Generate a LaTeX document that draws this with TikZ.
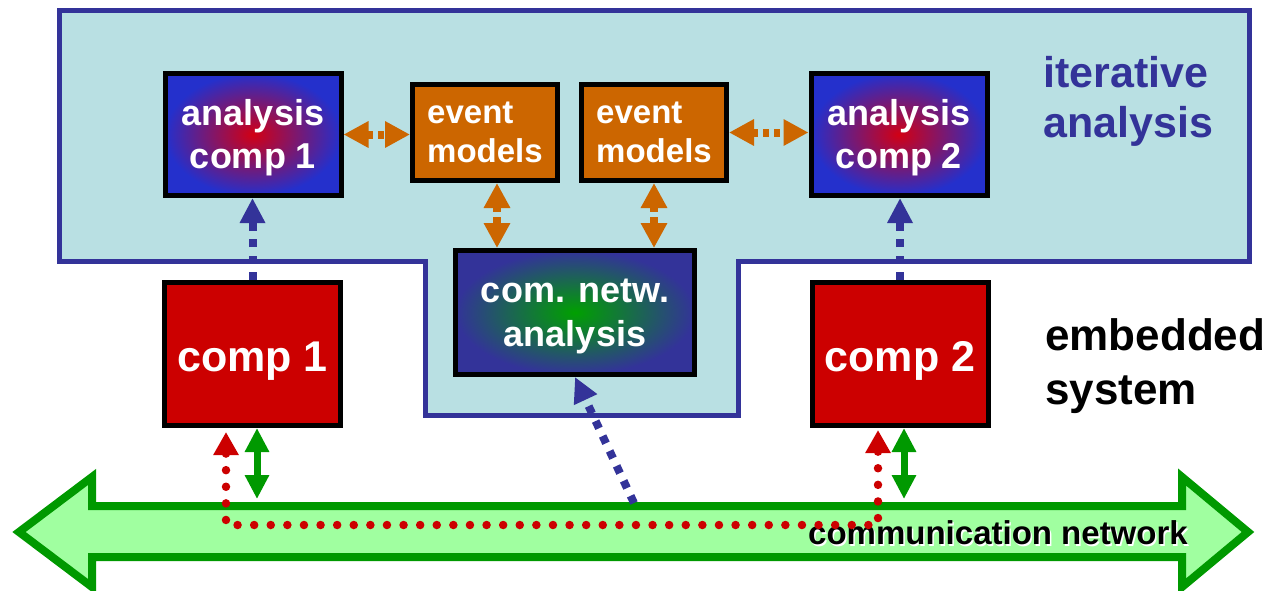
\documentclass[tikz,border=0pt]{standalone}
\usepackage{fontspec}
\setmainfont{Liberation Sans}
\usetikzlibrary{arrows.meta}

\definecolor{frameblue}{RGB}{51,51,153}
\definecolor{paleblue}{RGB}{185,224,227}
\definecolor{evorange}{RGB}{204,102,0}
\definecolor{compred}{RGB}{204,0,0}
\definecolor{netgreen}{RGB}{0,153,0}
\definecolor{netfill}{RGB}{160,255,160}
\definecolor{ancenter}{RGB}{210,0,20}
\definecolor{anouter}{RGB}{36,48,204}
\definecolor{cnacenter}{RGB}{0,160,0}

\newcommand{\fsz}[2]{\fontsize{#1}{#2}\selectfont\bfseries}
% invisible strut that sets the height of a first text line
\newcommand{\lineroom}[1]{\rule{0pt}{#1}}

\tikzset{
  blk/.style={draw=black, line width=5pt, inner sep=0pt, text=white, align=center},
  anbox/.style={blk, minimum width=176pt, minimum height=122pt,
    inner color=ancenter, outer color=anouter, font=\fsz{36}{43}},
  evbox/.style={blk, fill=evorange, minimum width=145pt, minimum height=96pt,
    align=left, font=\fsz{33}{39}},
  compbox/.style={blk, fill=compred, minimum width=176pt, minimum height=143pt,
    font=\fsz{43}{50}},
  netbox/.style={blk, minimum width=239pt, minimum height=124pt,
    inner color=cnacenter, outer color=frameblue, font=\fsz{36}{44}},
  bluelink/.style={draw=frameblue, line width=8pt,
    dash pattern=on 8pt off 8.5pt,
    -{Triangle[length=25pt,width=24pt]}},
  orangelink/.style={draw=evorange, line width=8pt,
    dash pattern=on 6pt off 5pt,
    {Triangle[length=25pt,width=25pt]}-{Triangle[length=25pt,width=25pt]}},
  greenlink/.style={draw=netgreen, line width=7pt,
    {Triangle[length=24pt,width=23pt]}-{Triangle[length=24pt,width=23pt]}},
  redlink/.style={draw=compred, line width=8.5pt, line cap=round,
    dash pattern=on 0pt off 16.6pt,
    {Triangle[length=23pt,width=24pt]}-{Triangle[length=23pt,width=24pt]}},
  heading/.style={inner sep=0pt, anchor=west, align=left},
}

\begin{document}
\begin{tikzpicture}[x=1pt, y=-1pt]
\useasboundingbox (0,0) rectangle (1277,590);

% iterative analysis region
\draw[frameblue, line width=5pt, fill=paleblue, line join=miter]
  (59,10) -- (1249,10) -- (1249,261) -- (738,261) -- (738,415)
  -- (425,415) -- (425,261) -- (59,261) -- cycle;

% communication network (double arrow)
\draw[netgreen, fill=netfill, line width=8pt, line join=miter]
  (19,532) -- (92,477) -- (92,506) -- (1182,506) -- (1182,477)
  -- (1248,532) -- (1182,587) -- (1182,557) -- (92,557) -- (92,587) -- cycle;
\node[text=white, font=\fsz{33}{39}] (netshadow) at (999.5,534.5) {communication network};
\node[text=black, font=\fsz{33}{39}] (netlabel) at (998,533) {communication network};

% analysis blocks
\node[anbox] (ac1) at (253,134.5) {\lineroom{33pt}analysis\\comp 1};
\node[anbox] (ac2) at (899,134.5) {\lineroom{33pt}analysis\\comp 2};
\node[evbox] (em1) at (485,132.5) {event\\models};
\node[evbox] (em2) at (654,132.5) {event\\models};
\node[netbox] (cna) at (575,312.5) {\lineroom{31pt}com. netw.\\analysis};

% embedded components
\node[compbox] (c1) at (252.5,354) {\lineroom{43pt}comp 1};
\node[compbox] (c2) at (900,354) {\lineroom{43pt}comp 2};

% labels
\node[heading, text=frameblue, font=\fsz{43}{50}] (itlabel) at (1043,101) {iterative\\analysis};
\node[heading, text=black, font=\fsz{44}{54}] (emlabel) at (1045,366) {embedded\\system};

% connector end points on the network
\coordinate (netA) at (257,499);
\coordinate (netB) at (904,499);
\coordinate (netC) at (634,503);
\coordinate (redrow) at (550,525);

% component -> analysis
\draw[bluelink] (c1.north) -- (c1.north |- ac1.south);
\draw[bluelink] (c2.north) -- (c2.north |- ac2.south);
\draw[bluelink] (netC) -- (cna.south);

% event model exchange
\draw[orangelink] (ac1.east) -- (ac1.east -| em1.west);
\draw[orangelink] (em2.east) -- (em2.east -| ac2.west);
\draw[orangelink] ([xshift=12pt]em1.south) -- ([xshift=12pt]em1.south |- cna.north);
\draw[orangelink] (em2.south) -- (em2.south |- cna.north);

% components <-> network
\draw[greenlink] ([xshift=4.5pt]c1.south) -- (netA);
\draw[greenlink] ([xshift=4pt]c2.south) -- (netB);
\draw[redlink] ([xshift=-26.5pt,yshift=-4pt]c1.south) |- (redrow)
  -| ([xshift=-22pt,yshift=-2pt]c2.south);
\end{tikzpicture}
\end{document}
